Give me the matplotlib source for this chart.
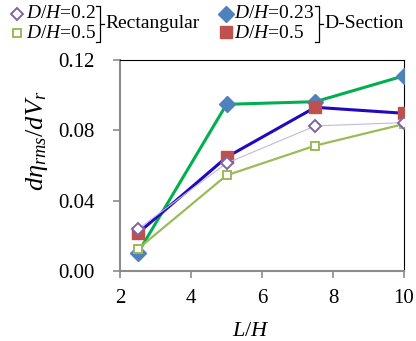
import matplotlib
matplotlib.use('Agg')
import matplotlib.pyplot as plt

plt.rcParams['font.family'] = 'Liberation Serif'
plt.rcParams['mathtext.fontset'] = 'custom'
plt.rcParams['mathtext.rm'] = 'Liberation Serif'
plt.rcParams['mathtext.it'] = 'Liberation Serif:italic'

# data
L_H = [2.5, 5, 7.5, 10]
rect_02 = [0.0237, 0.0613, 0.0825, 0.0844]
rect_05 = [0.0125, 0.0544, 0.0713, 0.0836]
dsec_023 = [0.0101, 0.0948, 0.0963, 0.111]
dsec_05 = [0.0214, 0.0647, 0.0931, 0.0897]

x_ticks = [2, 4, 6, 8, 10]
y_ticks = [0.00, 0.04, 0.08, 0.12]

fig = plt.figure(figsize=(4.16, 3.41), dpi=100)
ax = fig.add_axes([0.2885, 0.2053, 0.6827, 0.6187])

ax.plot(L_H, dsec_023, color='#00B050', lw=2.2, marker='D', ms=8,
        mfc='#4F81BD', mec='#4F81BD', zorder=3)
ax.plot(L_H, dsec_05, color='#2208C0', lw=2.2, marker='s', ms=8,
        mfc='#C0504D', mec='#C0504D', zorder=4)
ax.plot(L_H, rect_05, color='#9BBB59', lw=1.6, marker='s', ms=6,
        mfc='white', mec='#9BBB59', mew=1.4, zorder=5)
ax.plot(L_H, rect_02, color='#C3B8DC', lw=0.8, marker='D', ms=6.5,
        mfc='white', mec='#8064A2', mew=1.4, zorder=6)

ax.set_xlim(2, 10)
ax.set_ylim(0, 0.12)
ax.set_xticks(x_ticks)
ax.set_yticks(y_ticks)
ax.set_yticklabels(['%.2f' % v for v in y_ticks])
ax.tick_params(axis='both', direction='out', length=5, width=1.2,
               color='#8C8C8C', labelsize=15)
ax.tick_params(axis='y', pad=13)
ax.tick_params(axis='x', pad=8)
for s in ['left', 'bottom']:
    ax.spines[s].set_color('#8C8C8C')
    ax.spines[s].set_linewidth(1.5)
for s in ['top', 'right']:
    ax.spines[s].set_color('black')
    ax.spines[s].set_linewidth(0.8)

ax.set_xlabel('$L/H$', fontsize=16)
ax.set_ylabel(r'$d\eta_{rms}/dV_r$', fontsize=19)
ax.yaxis.set_label_coords(-0.245, 0.615)
ax.xaxis.set_label_coords(0.46, -0.24)

# legend drawn in pixel coords on an overlay
lg = fig.add_axes([0, 0, 1, 1])
lg.set_xlim(0, 416)
lg.set_ylim(341, 0)
lg.axis('off')
lg.patch.set_alpha(0)

lg.plot([17], [14], marker='D', ms=6, mfc='white', mec='#8064A2', mew=1.4)
lg.plot([17], [33], marker='s', ms=5.5, mfc='white', mec='#9BBB59', mew=1.4)
lg.plot([226], [14], marker='D', ms=8, color='#4F81BD')
lg.plot([226], [32], marker='s', ms=8, color='#C0504D')

fs = 14
lg.text(26, 14, '$D/H$=0.2', fontsize=fs, va='center')
lg.text(26, 33, '$D/H$=0.5', fontsize=fs, va='center')
lg.text(234, 14, '$D/H$=0.23', fontsize=fs, va='center')
lg.text(234, 33, '$D/H$=0.5', fontsize=fs, va='center')
lg.text(105, 24, 'Rectangular', fontsize=fs, va='center')
lg.text(324, 24, 'D-Section', fontsize=fs, va='center')

# brackets
for bx in [96, 315]:
    lg.plot([bx, bx + 4, bx + 4, bx], [6, 6, 42, 42], color='black', lw=0.9)
    lg.plot([bx + 4, bx + 8], [24, 24], color='black', lw=0.9)

fig.savefig('out.png', dpi=100)
